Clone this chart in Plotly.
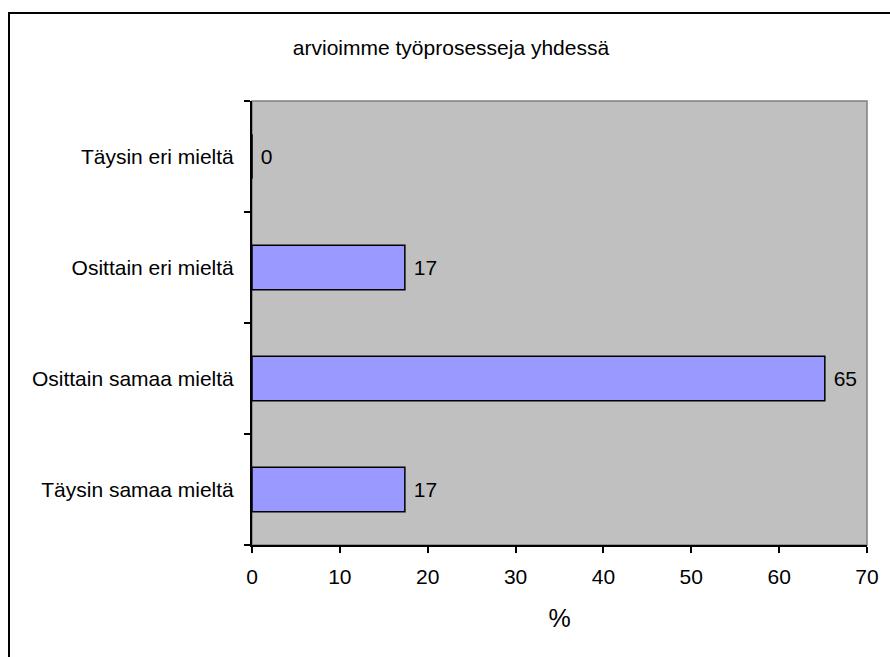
import plotly.graph_objects as go

# Survey answers (bottom to top on the category axis)
categories = ["Täysin samaa mieltä", "Osittain samaa mieltä", "Osittain eri mieltä", "Täysin eri mieltä"]
percent = [17.4, 65.2, 17.4, 0.0]
x_ticks = [0, 10, 20, 30, 40, 50, 60, 70]
chart_title = "arvioimme työprosesseja yhdessä"
x_title = "%"

FONT = "Liberation Sans, Arial, sans-serif"
FS = 21

fig = go.Figure()
fig.add_trace(go.Bar(
    y=categories,
    x=percent,
    orientation="h",
    width=0.4,
    marker=dict(color="#9999FF", line=dict(color="black", width=1.5)),
    texttemplate=" %{x:.0f}",
    textposition="outside",
    cliponaxis=False,
    textfont=dict(family=FONT, size=FS, color="black"),
    hoverinfo="skip",
))

# gray frame on the top/right of the plot area
fig.add_shape(type="rect", xref="x domain", yref="y domain", x0=0, x1=1, y0=0, y1=1,
              line=dict(color="#808080", width=1.5), fillcolor="rgba(0,0,0,0)", layer="below")
# outer chart border
fig.add_shape(type="rect", xref="paper", yref="paper",
              x0=(9 - 252) / 615, x1=1.1, y0=-0.3, y1=1 + (101 - 13) / 444,
              line=dict(color="black", width=2), fillcolor="rgba(0,0,0,0)", layer="below")

fig.update_layout(
    width=890, height=657,
    margin=dict(l=252, r=23, t=101, b=112),
    paper_bgcolor="white",
    plot_bgcolor="#C0C0C0",
    showlegend=False,
    font=dict(family=FONT, size=FS, color="black"),
    title=dict(text=chart_title, xref="container", x=451 / 890, xanchor="center",
               yref="container", y=1 - 48 / 657, yanchor="middle",
               font=dict(family=FONT, size=FS, color="black")),
    xaxis=dict(range=[0, 70], tickvals=x_ticks, showgrid=False, zeroline=False,
               showline=True, linecolor="black", linewidth=2,
               ticks="outside", ticklen=6, tickwidth=1.5, tickcolor="black",
               ticklabelstandoff=6,
               title=dict(text=x_title, standoff=22), fixedrange=True),
    xaxis2=dict(range=[0, 70], tickvals=x_ticks, overlaying="x", anchor="y",
                ticks="inside", ticklen=5, tickwidth=1.5, tickcolor="black",
                showticklabels=False, showgrid=False, zeroline=False, showline=False),
    yaxis=dict(type="category", categoryorder="array", categoryarray=categories,
               range=[-0.5, 3.5], showgrid=False, zeroline=False,
               showline=True, linecolor="black", linewidth=2,
               ticks="outside", ticklen=6, tickwidth=1.5, tickcolor="black",
               tickson="boundaries", ticklabelstandoff=12, fixedrange=True),
    yaxis2=dict(range=[-0.5, 3.5], tickvals=[-0.5, 0.5, 1.5, 2.5, 3.5], overlaying="y", anchor="x",
                ticks="inside", ticklen=5, tickwidth=1.5, tickcolor="black",
                showticklabels=False, showgrid=False, zeroline=False, showline=False),
)

fig.write_html("out.html")
